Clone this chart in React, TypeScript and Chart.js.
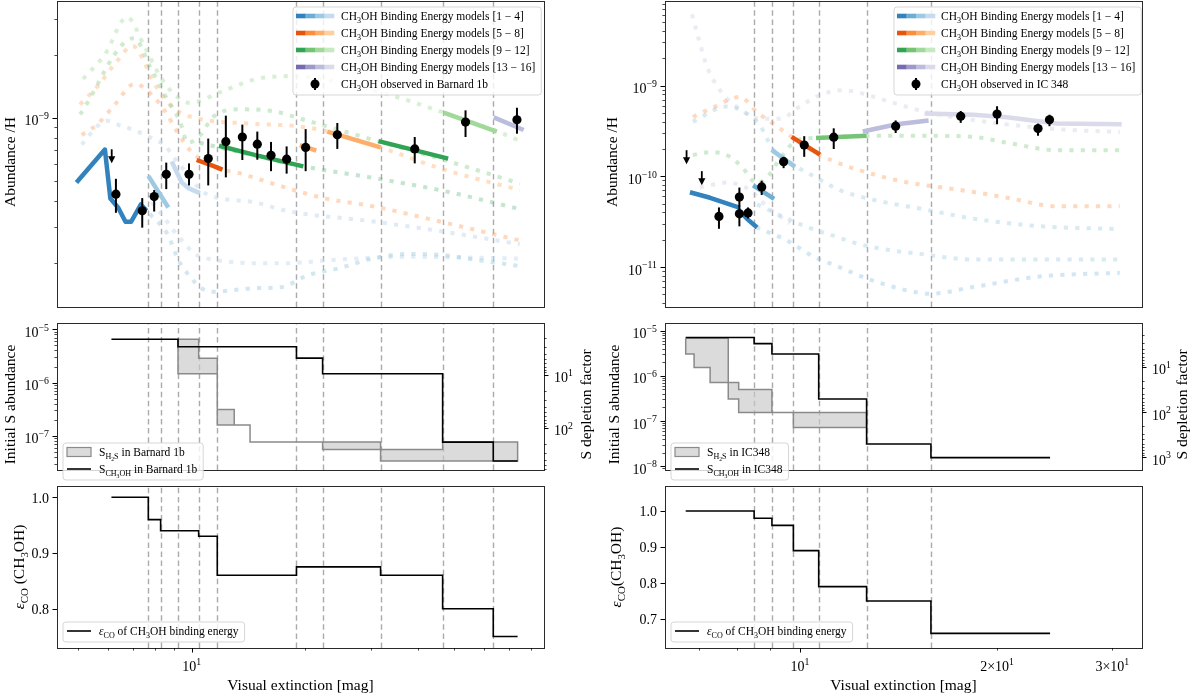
import React, { useEffect, useRef } from 'react';
import { Chart, registerables } from 'chart.js';

Chart.register(...registerables);

const FONT = '"Liberation Serif", "DejaVu Serif", serif';
const TICK_PX = 14;
const TITLE_PX = 15.5;
const LEG_PX = 11.5;

// ======================= DATA =======================
// dashed vertical lines (visual extinction, mag)
const B1B_VLINES = [7.67, 8.27, 9.2, 10.44, 11.7, 19.0, 22.3, 31.8, 46.5, 63.4];
const IC_VLINES = [8.51, 9.06, 9.77, 10.68, 12.64, 15.85];

// observations, Barnard 1b
const B1B_OBS_AV = [6.29, 7.39, 7.95, 8.56, 9.84, 11.07, 12.33, 13.64, 14.95, 16.26, 17.89, 20.1, 24.4, 39.2, 53.5, 73.3];
const B1B_OBS_X = [4.3e-10, 3.58e-10, 4.19e-10, 5.36e-10, 5.36e-10, 6.38e-10, 7.69e-10, 8.1e-10, 7.48e-10, 6.61e-10, 6.34e-10, 7.22e-10, 8.3e-10, 7.1e-10, 9.56e-10, 9.8e-10];
const B1B_OBS_HI = [5.1e-10, 4.12e-10, 4.5e-10, 6.1e-10, 6.05e-10, 7.96e-10, 1.026e-9, 9.29e-10, 8.6e-10, 7.67e-10, 7.3e-10, 8.84e-10, 9.46e-10, 8.1e-10, 1.088e-9, 1.12e-9];
const B1B_OBS_LO = [3.5e-10, 2.97e-10, 3.55e-10, 4.55e-10, 4.74e-10, 4.74e-10, 5.18e-10, 6.28e-10, 6.3e-10, 5.55e-10, 5.4e-10, 5.55e-10, 7.1e-10, 6.05e-10, 8.1e-10, 8.4e-10];
const B1B_ULIM_AV = [6.13];
const B1B_ULIM_X = [7.07e-10];

// observations, IC 348
const IC_OBS_AV = [7.52, 8.08, 8.08, 8.33, 8.74, 9.44, 10.15, 11.26, 14.0, 17.6, 20.0, 23.1, 24.05];
const IC_OBS_X = [3.61e-11, 5.91e-11, 3.86e-11, 3.95e-11, 7.64e-11, 1.45e-10, 2.21e-10, 2.7e-10, 3.57e-10, 4.59e-10, 4.85e-10, 3.36e-10, 4.2e-10];
const IC_OBS_HI = [4.54e-11, 7.52e-11, 4.78e-11, 4.54e-11, 8.95e-11, 1.64e-10, 2.77e-10, 3.38e-10, 4.13e-10, 5.25e-10, 5.92e-10, 3.81e-10, 4.77e-10];
const IC_OBS_LO = [2.64e-11, 4.64e-11, 2.81e-11, 3.43e-11, 6.23e-11, 1.23e-10, 1.64e-10, 2.0e-10, 3.0e-10, 3.88e-10, 3.75e-10, 2.8e-10, 3.57e-10];
const IC_ULIM_AV = [6.71, 7.08];
const IC_ULIM_X = [1.94e-10, 1.14e-10];

// faint model curves, Barnard 1b  [Av, abundance]
const B1B_DOT_A = [[5.14, 1.54e-9], [5.88, 2.02e-9], [6.73, 3.05e-9], [7.52, 2.18e-9], [8.24, 1.59e-9], [9.03, 1.29e-9], [9.9, 1.18e-9], [11.9, 1.33e-9], [14.9, 1.54e-9], [18.6, 1.59e-9], [24.8, 1.48e-9], [33.7, 1.29e-9], [46.9, 1.06e-9], [64.9, 8.63e-10], [74.6, 7.77e-10]];
const B1B_DOT_B = [[5.05, 1.04e-9], [7.03, 2.42e-9], [7.74, 1.77e-9], [8.49, 1.29e-9], [9.31, 9.6e-10], [9.77, 7.6e-10], [10.5, 8.2e-10], [11.4, 1.01e-9], [13.4, 1.1e-9], [16.4, 1.08e-9], [20.3, 9.7e-10], [30.4, 7.85e-10], [45.7, 6.37e-10], [74.6, 4.84e-10]];
const B1B_DOT_D = [[10.5, 7.6e-10], [13.4, 6.85e-10], [19.8, 5.85e-10], [30.4, 5.15e-10], [45.7, 4.5e-10], [74.6, 3.65e-10]];
const B1B_DOT_E = [[5.05, 1.16e-9], [5.64, 1.43e-9], [6.25, 1.82e-9], [6.98, 2.22e-9], [7.38, 1.96e-9], [7.84, 1.54e-9], [8.34, 1.29e-9], [9.03, 1.1e-9], [10.5, 9.9e-10], [14.3, 9.4e-10], [19.4, 9.1e-10], [22.9, 8.63e-10], [31.8, 7.22e-10], [45.7, 5.73e-10], [74.6, 4.5e-10]];
const B1B_DOT_F = [[5.1, 8.27e-10], [5.64, 9.4e-10], [6.25, 1.16e-9], [7.06, 1.46e-9], [7.84, 1.29e-9], [8.49, 1.08e-9], [9.2, 8.45e-10], [10.0, 6.85e-10], [10.65, 6.3e-10], [12.0, 5.67e-10], [13.4, 5.43e-10], [16.4, 4.84e-10], [22.3, 4.13e-10], [30.4, 3.76e-10], [45.7, 3.18e-10], [74.6, 2.58e-10]];
const B1B_DOT_G = [[5.1, 7.45e-10], [5.64, 9.2e-10], [5.95, 9.7e-10], [6.45, 9.2e-10], [7.06, 8.72e-10], [7.99, 7.85e-10], [8.49, 7.38e-10], [9.03, 6.37e-10], [9.6, 5.55e-10], [10.2, 4.84e-10], [10.85, 4.35e-10], [11.75, 4.13e-10], [14.7, 3.93e-10], [18.0, 3.57e-10], [30.4, 3.18e-10], [45.7, 2.86e-10], [74.6, 2.47e-10]];
const B1B_DOT_H = [[7.74, 3.46e-10], [8.65, 2.74e-10], [9.2, 2.09e-10], [10.0, 1.69e-10], [10.5, 1.54e-10], [11.3, 1.46e-10], [13.0, 1.49e-10], [14.7, 1.52e-10], [17.4, 1.54e-10], [20.3, 1.75e-10], [24.8, 1.9e-10], [30.4, 2.11e-10], [37.4, 2.22e-10], [45.7, 2.2e-10], [56.0, 2.09e-10], [74.6, 1.94e-10]];
const B1B_DOT_I = [[7.84, 3.93e-10], [8.49, 3.28e-10], [8.86, 2.95e-10], [9.42, 2.58e-10], [10.2, 2.22e-10], [11.3, 2.09e-10], [12.5, 2.04e-10], [14.7, 2.0e-10], [17.4, 2.0e-10], [24.8, 2.09e-10], [37.4, 2.15e-10], [74.6, 2.11e-10]];

// active model segments, Barnard 1b
const B1B_SEG_1 = [[4.94, 4.9e-10], [5.88, 7.05e-10], [6.08, 4.1e-10], [6.38, 3.7e-10], [6.67, 3.17e-10], [6.9, 3.17e-10], [7.33, 3.84e-10], [7.59, 3.58e-10]];
const B1B_SEG_2 = [[7.67, 5.27e-10], [8.67, 3.71e-10]];
const B1B_SEG_3 = [[8.85, 6.17e-10], [9.41, 4.9e-10], [9.8, 4.6e-10], [10.52, 4.35e-10]];
const B1B_SEG_4 = [[10.31, 6.28e-10], [11.18, 5.96e-10], [12.08, 5.65e-10]];
const B1B_SEG_5 = [[11.82, 7.35e-10], [14.88, 6.61e-10], [19.8, 5.85e-10]];
const B1B_SEG_6 = [[19.4, 7.4e-10], [21.45, 6.97e-10]];
const B1B_SEG_7 = [[22.95, 8.6e-10], [31.8, 7.22e-10]];
const B1B_SEG_8 = [[31.4, 7.74e-10], [48.1, 6.38e-10]];
const B1B_SEG_9 = [[46.8, 1.06e-9], [64.8, 8.6e-10]];
const B1B_SEG_10 = [[63.6, 1.007e-9], [76.4, 8.75e-10]];

// faint model curves, IC 348
const IC_DOT_A = [[6.84, 6.1e-9], [7.03, 2.96e-9], [7.21, 1.62e-9], [7.55, 8.87e-10], [8.1, 5.47e-10], [8.69, 4.3e-10], [9.32, 4.3e-10], [10.0, 5.89e-10], [10.73, 7.86e-10], [11.63, 8.87e-10], [12.22, 8.45e-10], [13.7, 6.64e-10], [15.6, 5.09e-10], [17.5, 4.41e-10], [20.2, 3.81e-10], [24.9, 3.3e-10], [30.8, 3.07e-10]];
const IC_DOT_C = [[6.86, 4.51e-10], [7.37, 5.74e-10], [8.1, 7.48e-10], [8.6, 5.09e-10], [9.22, 3.55e-10], [9.76, 2.65e-10], [10.2, 2.14e-10], [10.73, 1.72e-10], [11.5, 1.38e-10], [12.9, 1.06e-10], [14.6, 8.55e-11], [16.4, 7.58e-11], [18.4, 6.72e-11], [20.7, 5.81e-11], [24.7, 4.68e-11], [30.8, 4.68e-11]];
const IC_DOT_D = [[6.86, 4.0e-10], [7.74, 5.89e-10], [8.18, 5.2e-10], [8.69, 3.63e-10], [9.09, 1.99e-10], [9.76, 1.35e-10], [10.6, 9.64e-11], [11.5, 7.05e-11], [12.9, 5.54e-11], [15.4, 4.35e-11], [18.4, 3.42e-11], [23.2, 2.82e-11], [30.8, 2.62e-11]];
const IC_DOT_E = [[6.86, 1.72e-10], [7.29, 1.85e-10], [7.82, 1.64e-10], [8.18, 1.23e-10], [8.6, 8.35e-11], [8.9, 9.64e-11], [9.32, 1.56e-10], [9.9, 2.5e-10], [10.5, 2.64e-10], [12.65, 2.8e-10], [16.4, 2.79e-10], [18.4, 2.72e-10], [20.7, 2.35e-10], [24.7, 1.94e-10], [30.8, 1.94e-10]];
const IC_DOT_F = [[7.03, 7.58e-11], [7.74, 8.55e-11], [8.39, 7.05e-11], [8.9, 4.68e-11], [9.65, 3.03e-11]];
const IC_DOT_G = [[8.6, 4.91e-11], [9.55, 3.42e-11], [10.36, 2.69e-11], [11.23, 2.22e-11], [12.35, 1.78e-11], [13.7, 1.54e-11], [15.2, 1.4e-11], [18.4, 1.21e-11], [30.8, 1.21e-11]];
const IC_DOT_H = [[8.57, 2.75e-11], [9.55, 1.96e-11], [10.5, 1.3e-11], [11.4, 1.02e-11], [12.65, 7.48e-12], [13.9, 6.03e-12], [15.2, 5.21e-12], [15.8, 5.09e-12], [18.4, 6.03e-12], [23.2, 7.86e-12], [30.8, 8.65e-12]];

// active model segments, IC 348
const IC_SEG_1 = [[6.79, 6.67e-11], [7.29, 5.8e-11], [8.08, 4.53e-11]];
const IC_SEG_1B = [[8.05, 4.3e-11], [8.3, 3.4e-11], [8.6, 2.73e-11]];
const IC_SEG_2 = [[8.48, 7.96e-11], [9.13, 5.63e-11]];
const IC_SEG_3 = [[9.05, 1.954e-10], [9.83, 1.27e-10]];
const IC_SEG_4 = [[9.71, 2.72e-10], [10.73, 1.73e-10]];
const IC_SEG_5 = [[10.58, 2.64e-10], [12.64, 2.8e-10]];
const IC_SEG_6 = [[12.47, 3.12e-10], [14.05, 3.75e-10], [15.72, 4.13e-10]];
const IC_SEG_7 = [[15.5, 4.93e-10], [18.4, 4.77e-10], [20.7, 4.48e-10], [24.66, 3.81e-10], [31.0, 3.75e-10]];

// initial sulphur abundance (step edges and values)
const B1B_S_EDGES = [6.12, 9.2, 19.0, 22.3, 46.5, 63.4, 73.6];
const B1B_S_CH3OH = [6.5e-6, 4.7e-6, 2.87e-6, 1.46e-6, 7.6e-8, 3.35e-8];
const B1B_H2S_EDGES = [9.2, 10.44, 11.7, 12.98, 14.3, 22.3, 31.8, 46.5, 63.4, 73.6];
const B1B_H2S_HI = [6.5e-6, 2.87e-6, 3.1e-7, 1.6e-7, 7.6e-8, 7.6e-8, 5.5e-8, 7.6e-8, 7.6e-8];
const B1B_H2S_LO = [1.46e-6, 1.46e-6, 1.6e-7, 1.6e-7, 7.6e-8, 5.5e-8, 3.35e-8, 3.35e-8, 3.35e-8];
const IC_S_EDGES = [6.69, 8.51, 9.06, 10.68, 12.64, 15.85, 24.1];
const IC_S_CH3OH = [7.1e-6, 5.2e-6, 3.07e-6, 3.07e-7, 3.1e-8, 1.54e-8];
const IC_H2S_EDGES = [6.69, 6.89, 7.29, 7.77, 8.06, 9.06, 9.77, 12.64];
const IC_H2S_HI = [6.8e-6, 6.8e-6, 6.8e-6, 7.1e-7, 5.0e-7, 1.54e-7, 1.54e-7];
const IC_H2S_LO = [3.07e-6, 1.54e-6, 7.1e-7, 3.07e-7, 1.54e-7, 1.54e-7, 7.2e-8];

// eps_CO of CH3OH binding energy
const B1B_EPS_EDGES = [6.12, 7.67, 8.27, 10.44, 11.7, 19.0, 31.8, 46.5, 63.4, 73.6];
const B1B_EPS = [1.0, 0.96, 0.94, 0.93, 0.86, 0.875, 0.86, 0.8, 0.75];
const IC_EPS_EDGES = [6.69, 8.51, 9.06, 9.77, 10.68, 12.64, 15.85, 24.1];
const IC_EPS = [1.0, 0.98, 0.96, 0.89, 0.79, 0.75, 0.66];

// axis ranges
const B1B_AV_RANGE = [4.385, 86.5];
const IC_AV_RANGE = [6.22, 33.3];
const B1B_ABUND_RANGE = [1.234e-10, 3.65e-9];
const IC_ABUND_RANGE = [3.63e-12, 8.55e-9];
const B1B_S_RANGE = [2.27e-8, 1.315e-5];
const IC_S_RANGE = [8.2e-9, 1.49e-5];
const B1B_EPS_RANGE = [0.7294, 1.0203];
const IC_EPS_RANGE = [0.6194, 1.0694];
const B1B_S_REF = 1.4e-5; // depletion factor = S_REF / S
const IC_S_REF = 1.58e-5;

// labelled ticks
const B1B_X_TICKS = [10];
const B1B_X_LABELS = ['10^1'];
const IC_X_TICKS = [10, 20, 30];
const IC_X_LABELS = ['10^1', '2×10^1', '3×10^1'];
const B1B_ABUND_TICKS = [1e-9];
const B1B_ABUND_LABELS = ['10^−9'];
const IC_ABUND_TICKS = [1e-9, 1e-10, 1e-11];
const IC_ABUND_LABELS = ['10^−9', '10^−10', '10^−11'];
const B1B_S_TICKS = [1e-5, 1e-6, 1e-7];
const B1B_S_LABELS = ['10^−5', '10^−6', '10^−7'];
const IC_S_TICKS = [1e-5, 1e-6, 1e-7, 1e-8];
const IC_S_LABELS = ['10^−5', '10^−6', '10^−7', '10^−8'];
const B1B_DEPL_TICKS = [10, 100];
const B1B_DEPL_LABELS = ['10^1', '10^2'];
const IC_DEPL_TICKS = [10, 100, 1000];
const IC_DEPL_LABELS = ['10^1', '10^2', '10^3'];
const B1B_EPS_TICKS = [1.0, 0.9, 0.8];
const B1B_EPS_LABELS = ['1.0', '0.9', '0.8'];
const IC_EPS_TICKS = [1.0, 0.9, 0.8, 0.7];
const IC_EPS_LABELS = ['1.0', '0.9', '0.8', '0.7'];

// tab20c palette
const BLUES = ['#3182bd', '#6baed6', '#9ecae1', '#c6dbef'];
const ORANGES = ['#e6550d', '#fd8d3c', '#fdae6b', '#fdd0a2'];
const GREENS = ['#31a354', '#74c476', '#a1d99b', '#c7e9c0'];
const PURPLES = ['#756bb1', '#9e9ac8', '#bcbddc', '#dadaeb'];

// ======================= helpers =======================
type Seg = { t: string; sub?: boolean; sup?: boolean; it?: boolean; ss?: boolean };

const rgba = (hex: string, a: number) => {
  const n = parseInt(hex.slice(1), 16);
  return `rgba(${(n >> 16) & 255},${(n >> 8) & 255},${n & 255},${a})`;
};
const segSize = (s: Seg, size: number) => (s.ss ? size * 0.5 : s.sub || s.sup ? size * 0.7 : size);
const segDy = (s: Seg, size: number) => (s.ss ? size * 0.4 : s.sub ? size * 0.24 : s.sup ? -size * 0.45 : 0);
function setFont(ctx: CanvasRenderingContext2D, s: Seg, size: number) {
  ctx.font = `${s.it ? 'italic ' : ''}${segSize(s, size)}px ${FONT}`;
}
function richWidth(ctx: CanvasRenderingContext2D, segs: Seg[], size: number) {
  let w = 0;
  for (const s of segs) {
    setFont(ctx, s, size);
    w += ctx.measureText(s.t).width;
  }
  return w;
}
function drawRich(ctx: CanvasRenderingContext2D, segs: Seg[], x: number, y: number, size: number, align: string) {
  const w = richWidth(ctx, segs, size);
  let cx = align === 'left' ? x : align === 'center' ? x - w / 2 : x - w;
  ctx.textAlign = 'left';
  ctx.textBaseline = 'alphabetic';
  for (const s of segs) {
    setFont(ctx, s, size);
    ctx.fillText(s.t, cx, y + segDy(s, size));
    cx += ctx.measureText(s.t).width;
  }
  return w;
}
function drawRotated(ctx: CanvasRenderingContext2D, segs: Seg[], cx: number, cy: number, size: number) {
  ctx.save();
  ctx.translate(cx, cy);
  ctx.rotate(-Math.PI / 2);
  ctx.fillStyle = '#000';
  drawRich(ctx, segs, 0, size * 0.35, size, 'center');
  ctx.restore();
}
function parseLabel(s: string): Seg[] {
  const i = s.indexOf('^');
  if (i < 0) return [{ t: s }];
  return [{ t: s.slice(0, i) }, { t: s.slice(i + 1), sup: true }];
}
type Tick = { v: number; major: boolean; label: string | null };
function logTicks(range: number[], vals: number[], labels: string[]): Tick[] {
  const [min, max] = range;
  const out: Tick[] = [];
  const e0 = Math.floor(Math.log10(min));
  const e1 = Math.ceil(Math.log10(max));
  for (let e = e0; e <= e1; e++) {
    for (let d = 1; d <= 9; d++) {
      const v = d * Math.pow(10, e);
      if (v < min * 0.9999 || v > max * 1.0001) continue;
      const k = vals.findIndex((m) => Math.abs(m - v) / v < 1e-6);
      out.push({ v, major: d === 1, label: k >= 0 ? labels[k] : null });
    }
  }
  return out;
}
function linTicks(vals: number[], labels: string[]): Tick[] {
  return vals.map((v, i) => ({ v, major: true, label: labels[i] }));
}
const pts = (arr: number[][]) => arr.map(([x, y]) => ({ x, y }));
function stepData(edges: number[], vals: number[]) {
  const p = vals.map((v, i) => ({ x: edges[i], y: v }));
  p.push({ x: edges[edges.length - 1], y: vals[vals.length - 1] });
  return p;
}
function bandOutline(edges: number[], hi: number[], lo: number[]) {
  const p: { x: number; y: number }[] = [];
  for (let i = 0; i < hi.length; i++) {
    p.push({ x: edges[i], y: hi[i] });
    p.push({ x: edges[i + 1], y: hi[i] });
  }
  for (let i = lo.length - 1; i >= 0; i--) {
    p.push({ x: edges[i + 1], y: lo[i] });
    p.push({ x: edges[i], y: lo[i] });
  }
  p.push({ x: p[0].x, y: p[0].y });
  return p;
}

const dottedDs = (arr: number[][], color: string, alpha: number) => ({
  data: pts(arr),
  borderColor: rgba(color, alpha),
  borderWidth: 4,
  borderDash: [4.2, 7.2],
  borderCapStyle: 'butt',
  cubicInterpolationMode: 'monotone',
  pointRadius: 0,
  fill: false,
  order: 3,
});
const solidDs = (arr: number[][], color: string) => ({
  data: pts(arr),
  borderColor: color,
  borderWidth: 4.5,
  borderJoinStyle: 'round',
  borderCapStyle: 'butt',
  pointRadius: 0,
  fill: false,
  order: 1,
});
const obsDs = (av: number[], x: number[]) => ({
  data: av.map((a, i) => ({ x: a, y: x[i] })),
  showLine: false,
  pointRadius: 4.6,
  pointBackgroundColor: '#000',
  pointBorderColor: '#000',
  pointBorderWidth: 0,
  order: 0,
});
const stepDs = (edges: number[], vals: number[]) => ({
  data: stepData(edges, vals),
  stepped: true,
  borderColor: '#000',
  borderWidth: 1.6,
  pointRadius: 0,
  fill: false,
  order: 0,
});
const bandDs = (edges: number[], hi: number[], lo: number[]) => ({
  data: bandOutline(edges, hi, lo),
  borderColor: '#8a8a8a',
  borderWidth: 1.5,
  backgroundColor: 'rgba(200,200,200,0.65)',
  pointRadius: 0,
  fill: 'shape',
  order: 1,
});

// legend text helpers
const modelText = (r: string): Seg[] => [{ t: 'CH' }, { t: '3', sub: true }, { t: `OH Binding Energy models [${r}]` }];
const obsText = (src: string): Seg[] => [{ t: 'CH' }, { t: '3', sub: true }, { t: `OH observed in ${src}` }];
const h2sText = (src: string): Seg[] => [{ t: 'S' }, { t: 'H', sub: true }, { t: '2', ss: true }, { t: 'S', sub: true }, { t: ` in ${src}` }];
const sch3ohText = (src: string): Seg[] => [{ t: 'S' }, { t: 'CH', sub: true }, { t: '3', ss: true }, { t: 'OH', sub: true }, { t: ` in ${src}` }];
const epsText: Seg[] = [{ t: 'ε', it: true }, { t: 'CO', sub: true }, { t: ' of CH' }, { t: '3', sub: true }, { t: 'OH binding energy' }];

// ======================= layout =======================
const LCOL = { cl: 0, cr: 605, left: 57, right: 544 };
const RCOL = { cl: 605, cr: 1200, left: 665, right: 1142 };
const ROWS = [
  { top: 1, bottom: 323 },
  { top: 323, bottom: 486 },
  { top: 486, bottom: 648 },
];
const MT = 16;

type LegendRow = { kind: string; colors?: string[]; text: Seg[] };
type Spec = any;

function drawLegend(ctx: CanvasRenderingContext2D, x: number, y: number, rows: LegendRow[], swW: number, textOff: number) {
  let tw = 0;
  for (const r of rows) tw = Math.max(tw, richWidth(ctx, r.text, LEG_PX));
  const w = textOff + tw + 6;
  const h = rows.length * 17 + 3;
  ctx.save();
  ctx.beginPath();
  const rr = 3;
  ctx.moveTo(x + rr, y);
  ctx.arcTo(x + w, y, x + w, y + h, rr);
  ctx.arcTo(x + w, y + h, x, y + h, rr);
  ctx.arcTo(x, y + h, x, y, rr);
  ctx.arcTo(x, y, x + w, y, rr);
  ctx.closePath();
  ctx.fillStyle = 'rgba(255,255,255,0.8)';
  ctx.fill();
  ctx.strokeStyle = 'rgba(210,210,210,0.9)';
  ctx.lineWidth = 1;
  ctx.stroke();
  rows.forEach((r, i) => {
    const cy = y + 9 + 17 * i;
    const sx = x + 3;
    if (r.kind === 'grad' && r.colors) {
      const sw = swW / 4;
      r.colors.forEach((c, k) => {
        ctx.fillStyle = c;
        ctx.fillRect(sx + k * sw, cy - 2.3, sw + 0.3, 4.6);
      });
    } else if (r.kind === 'obs') {
      const mx = sx + swW / 2;
      ctx.strokeStyle = '#000';
      ctx.lineWidth = 2;
      ctx.beginPath();
      ctx.moveTo(mx, cy - 6);
      ctx.lineTo(mx, cy + 6);
      ctx.stroke();
      ctx.fillStyle = '#000';
      ctx.beginPath();
      ctx.arc(mx, cy, 4.5, 0, Math.PI * 2);
      ctx.fill();
    } else if (r.kind === 'band') {
      ctx.fillStyle = 'rgba(200,200,200,0.65)';
      ctx.fillRect(sx + 1, cy - 4.5, swW - 1, 9);
      ctx.strokeStyle = '#8a8a8a';
      ctx.lineWidth = 1.2;
      ctx.strokeRect(sx + 1, cy - 4.5, swW - 1, 9);
    } else if (r.kind === 'line') {
      ctx.strokeStyle = '#000';
      ctx.lineWidth = 1.6;
      ctx.beginPath();
      ctx.moveTo(sx + 1, cy);
      ctx.lineTo(sx + swW, cy);
      ctx.stroke();
    }
    ctx.fillStyle = '#000';
    drawRich(ctx, r.text, x + textOff, cy + 4, LEG_PX, 'left');
  });
  ctx.restore();
}

function drawTicksY(ctx: CanvasRenderingContext2D, scale: any, ticks: Tick[], a: any, side: string) {
  ctx.save();
  ctx.strokeStyle = '#000';
  ctx.fillStyle = '#000';
  const x0 = side === 'left' ? a.left : a.right;
  const dir = side === 'left' ? -1 : 1;
  for (const tk of ticks) {
    const py = scale.getPixelForValue(tk.v);
    if (py < a.top - 0.6 || py > a.bottom + 0.6) continue;
    const len = tk.major ? 4.5 : 2.6;
    ctx.lineWidth = tk.major ? 1 : 0.7;
    ctx.beginPath();
    ctx.moveTo(x0, Math.round(py) + 0.5);
    ctx.lineTo(x0 + dir * len, Math.round(py) + 0.5);
    ctx.stroke();
    if (tk.label) {
      const segs = parseLabel(tk.label);
      const sup = segs.length > 1;
      drawRich(ctx, segs, x0 + dir * (side === 'left' ? 8 : 10), py + (sup ? 7.5 : 5.5), TICK_PX, side === 'left' ? 'right' : 'left');
    }
  }
  ctx.restore();
}
function drawTicksX(ctx: CanvasRenderingContext2D, scale: any, ticks: Tick[], a: any) {
  ctx.save();
  ctx.strokeStyle = '#000';
  ctx.fillStyle = '#000';
  for (const tk of ticks) {
    const px = scale.getPixelForValue(tk.v);
    if (px < a.left - 0.6 || px > a.right + 0.6) continue;
    const len = tk.major ? 4.5 : 2.6;
    ctx.lineWidth = tk.major ? 1 : 0.7;
    ctx.beginPath();
    ctx.moveTo(Math.round(px) + 0.5, a.bottom);
    ctx.lineTo(Math.round(px) + 0.5, a.bottom + len);
    ctx.stroke();
    if (tk.label) drawRich(ctx, parseLabel(tk.label), px, a.bottom + 23, TICK_PX, 'center');
  }
  ctx.restore();
}

function buildChart(canvas: HTMLCanvasElement, sp: Spec) {
  const col = sp.col;
  const row = ROWS[sp.row];
  const isBottom = sp.row === 2;
  const mb = isBottom ? 695 - row.bottom : 16;
  const ml = col.left - col.cl;
  const mr = col.cr - col.right;
  const W = col.cr - col.cl;
  const H = row.bottom - row.top + MT + mb;
  const ox = col.cl;
  const oy = row.top - MT;
  canvas.width = W;
  canvas.height = H;
  canvas.style.left = `${ox}px`;
  canvas.style.top = `${oy}px`;
  canvas.style.width = `${W}px`;
  canvas.style.height = `${H}px`;

  const hidden = { grid: { display: false }, border: { display: false }, ticks: { display: false } };
  const scales: any = {
    x: {
      type: 'logarithmic',
      min: sp.xRange[0],
      max: sp.xRange[1],
      display: isBottom,
      ...hidden,
      afterFit: (s: any) => {
        s.height = mb;
      },
    },
    y: {
      type: sp.yType,
      position: 'left',
      min: sp.yRange[0],
      max: sp.yRange[1],
      ...hidden,
      afterFit: (s: any) => {
        s.width = ml;
      },
    },
  };
  if (sp.y2Range) {
    scales.y2 = {
      type: 'logarithmic',
      position: 'right',
      reverse: true,
      min: sp.y2Range[0],
      max: sp.y2Range[1],
      ...hidden,
      afterFit: (s: any) => {
        s.width = mr;
      },
    };
  }

  const deco = {
    id: 'deco',
    beforeDatasetsDraw(chart: any) {
      const ctx = chart.ctx;
      const a = chart.chartArea;
      const xs = chart.scales.x;
      ctx.save();
      ctx.strokeStyle = 'rgba(150,150,150,0.8)';
      ctx.lineWidth = 1.4;
      ctx.setLineDash([5.5, 3.6]);
      for (const v of sp.vlines) {
        const px = Math.round(xs.getPixelForValue(v)) + 0.5;
        ctx.beginPath();
        ctx.moveTo(px, a.bottom);
        ctx.lineTo(px, a.top);
        ctx.stroke();
      }
      ctx.restore();
    },
    afterDatasetsDraw(chart: any) {
      const ctx = chart.ctx;
      const xs = chart.scales.x;
      const ys = chart.scales.y;
      ctx.save();
      ctx.strokeStyle = '#000';
      ctx.fillStyle = '#000';
      if (sp.obs) {
        ctx.lineWidth = 2;
        sp.obs.av.forEach((av: number, i: number) => {
          const px = xs.getPixelForValue(av);
          ctx.beginPath();
          ctx.moveTo(px, ys.getPixelForValue(sp.obs.lo[i]));
          ctx.lineTo(px, ys.getPixelForValue(sp.obs.hi[i]));
          ctx.stroke();
        });
      }
      if (sp.ulim) {
        sp.ulim.av.forEach((av: number, i: number) => {
          const px = xs.getPixelForValue(av);
          const py = ys.getPixelForValue(sp.ulim.x[i]);
          ctx.lineWidth = 1.8;
          ctx.beginPath();
          ctx.moveTo(px, py);
          ctx.lineTo(px, py + 9);
          ctx.stroke();
          ctx.beginPath();
          ctx.moveTo(px - 3.6, py + 7);
          ctx.lineTo(px + 3.6, py + 7);
          ctx.lineTo(px, py + 14);
          ctx.closePath();
          ctx.fill();
        });
      }
      ctx.restore();
    },
    afterDraw(chart: any) {
      const ctx = chart.ctx;
      const a = chart.chartArea;
      // frame
      ctx.save();
      ctx.strokeStyle = '#2a2a2a';
      ctx.lineWidth = 1;
      ctx.strokeRect(Math.round(a.left) + 0.5, Math.round(a.top) + 0.5, Math.round(a.right - a.left), Math.round(a.bottom - a.top));
      ctx.restore();
      drawTicksY(ctx, chart.scales.y, sp.yTicks, a, 'left');
      if (sp.y2Ticks) drawTicksY(ctx, chart.scales.y2, sp.y2Ticks, a, 'right');
      if (sp.xTicks) drawTicksX(ctx, chart.scales.x, sp.xTicks, a);
      // titles and legends in page coordinates
      ctx.save();
      ctx.translate(-ox, -oy);
      ctx.fillStyle = '#000';
      drawRotated(ctx, sp.yTitle, sp.yTitleX, (row.top + row.bottom) / 2, TITLE_PX);
      if (sp.y2Title) drawRotated(ctx, sp.y2Title, sp.y2TitleX, (row.top + row.bottom) / 2, TITLE_PX);
      if (sp.xTitle) {
        ctx.fillStyle = '#000';
        drawRich(ctx, sp.xTitle, (col.left + col.right) / 2, 690, TITLE_PX, 'center');
      }
      if (sp.legend) drawLegend(ctx, sp.legend.x, sp.legend.y, sp.legend.rows, sp.legend.swW, sp.legend.textOff);
      ctx.restore();
    },
  };

  return new Chart(canvas, {
    type: 'line',
    data: { datasets: sp.datasets },
    options: {
      animation: false,
      responsive: false,
      events: [],
      layout: { padding: { top: MT, bottom: isBottom ? 0 : mb, left: 0, right: sp.y2Range ? 0 : mr } },
      plugins: { legend: { display: false }, tooltip: { enabled: false } },
      scales,
    },
    plugins: [deco],
  } as any);
}

function makeSpecs(): Spec[] {
  const ABUND_T: Seg[] = [{ t: 'Abundance /H' }];
  const S_T: Seg[] = [{ t: 'Initial S abundance' }];
  const DEPL_T: Seg[] = [{ t: 'S depletion factor' }];
  const X_T: Seg[] = [{ t: 'Visual extinction [mag]' }];
  const EPS_TL: Seg[] = [{ t: 'ε', it: true }, { t: 'CO', sub: true }, { t: ' (CH' }, { t: '3', sub: true }, { t: 'OH)' }];
  const EPS_TR: Seg[] = [{ t: 'ε', it: true }, { t: 'CO', sub: true }, { t: '(CH' }, { t: '3', sub: true }, { t: 'OH)' }];

  const topRows = (src: string): LegendRow[] => [
    { kind: 'grad', colors: BLUES, text: modelText('1 − 4') },
    { kind: 'grad', colors: ORANGES, text: modelText('5 − 8') },
    { kind: 'grad', colors: GREENS, text: modelText('9 − 12') },
    { kind: 'grad', colors: PURPLES, text: modelText('13 − 16') },
    { kind: 'obs', text: obsText(src) },
  ];

  const b1bTop = [
    obsDs(B1B_OBS_AV, B1B_OBS_X),
    solidDs(B1B_SEG_1, BLUES[0]),
    solidDs(B1B_SEG_2, BLUES[2]),
    solidDs(B1B_SEG_3, BLUES[3]),
    solidDs(B1B_SEG_4, ORANGES[0]),
    solidDs(B1B_SEG_5, GREENS[0]),
    solidDs(B1B_SEG_6, ORANGES[2]),
    solidDs(B1B_SEG_7, ORANGES[2]),
    solidDs(B1B_SEG_8, GREENS[0]),
    solidDs(B1B_SEG_9, GREENS[2]),
    solidDs(B1B_SEG_10, PURPLES[2]),
    dottedDs(B1B_DOT_A, GREENS[2], 0.4),
    dottedDs(B1B_DOT_B, GREENS[1], 0.35),
    dottedDs(B1B_DOT_D, GREENS[0], 0.28),
    dottedDs(B1B_DOT_E, ORANGES[2], 0.4),
    dottedDs(B1B_DOT_F, ORANGES[1], 0.33),
    dottedDs(B1B_DOT_G, BLUES[3], 0.55),
    dottedDs(B1B_DOT_H, BLUES[2], 0.45),
    dottedDs(B1B_DOT_I, BLUES[3], 0.5),
  ];
  const icTop = [
    obsDs(IC_OBS_AV, IC_OBS_X),
    solidDs(IC_SEG_1, BLUES[0]),
    solidDs(IC_SEG_1B, BLUES[0]),
    solidDs(IC_SEG_2, BLUES[1]),
    solidDs(IC_SEG_3, BLUES[2]),
    solidDs(IC_SEG_4, ORANGES[0]),
    solidDs(IC_SEG_5, GREENS[1]),
    solidDs(IC_SEG_6, PURPLES[2]),
    solidDs(IC_SEG_7, PURPLES[3]),
    dottedDs(IC_DOT_A, PURPLES[2], 0.3),
    dottedDs(IC_DOT_C, ORANGES[1], 0.33),
    dottedDs(IC_DOT_D, BLUES[2], 0.4),
    dottedDs(IC_DOT_E, GREENS[1], 0.35),
    dottedDs(IC_DOT_F, PURPLES[2], 0.3),
    dottedDs(IC_DOT_G, BLUES[2], 0.4),
    dottedDs(IC_DOT_H, BLUES[1], 0.3),
  ];

  return [
    {
      col: LCOL, row: 0, xRange: B1B_AV_RANGE, yType: 'logarithmic', yRange: B1B_ABUND_RANGE,
      yTicks: logTicks(B1B_ABUND_RANGE, B1B_ABUND_TICKS, B1B_ABUND_LABELS),
      yTitle: ABUND_T, yTitleX: 10, vlines: B1B_VLINES, datasets: b1bTop,
      obs: { av: B1B_OBS_AV, lo: B1B_OBS_LO, hi: B1B_OBS_HI }, ulim: { av: B1B_ULIM_AV, x: B1B_ULIM_X },
      legend: { x: 293, y: 7, rows: topRows('Barnard 1b'), swW: 38, textOff: 48 },
    },
    {
      col: LCOL, row: 1, xRange: B1B_AV_RANGE, yType: 'logarithmic', yRange: B1B_S_RANGE,
      y2Range: [B1B_S_REF / B1B_S_RANGE[1], B1B_S_REF / B1B_S_RANGE[0]],
      yTicks: logTicks(B1B_S_RANGE, B1B_S_TICKS, B1B_S_LABELS),
      y2Ticks: logTicks([B1B_S_REF / B1B_S_RANGE[1], B1B_S_REF / B1B_S_RANGE[0]], B1B_DEPL_TICKS, B1B_DEPL_LABELS),
      yTitle: S_T, yTitleX: 10, y2Title: DEPL_T, y2TitleX: 586, vlines: B1B_VLINES,
      datasets: [stepDs(B1B_S_EDGES, B1B_S_CH3OH), bandDs(B1B_H2S_EDGES, B1B_H2S_HI, B1B_H2S_LO)],
      legend: { x: 63, y: 443, rows: [{ kind: 'band', text: h2sText('Barnard 1b') }, { kind: 'line', text: sch3ohText('Barnard 1b') }], swW: 25, textOff: 36 },
    },
    {
      col: LCOL, row: 2, xRange: B1B_AV_RANGE, yType: 'linear', yRange: B1B_EPS_RANGE,
      yTicks: linTicks(B1B_EPS_TICKS, B1B_EPS_LABELS),
      xTicks: logTicks(B1B_AV_RANGE, B1B_X_TICKS, B1B_X_LABELS),
      yTitle: EPS_TL, yTitleX: 19, xTitle: X_T, vlines: B1B_VLINES,
      datasets: [stepDs(B1B_EPS_EDGES, B1B_EPS)],
      legend: { x: 63, y: 622, rows: [{ kind: 'line', text: epsText }], swW: 25, textOff: 36 },
    },
    {
      col: RCOL, row: 0, xRange: IC_AV_RANGE, yType: 'logarithmic', yRange: IC_ABUND_RANGE,
      yTicks: logTicks(IC_ABUND_RANGE, IC_ABUND_TICKS, IC_ABUND_LABELS),
      yTitle: ABUND_T, yTitleX: 612, vlines: IC_VLINES, datasets: icTop,
      obs: { av: IC_OBS_AV, lo: IC_OBS_LO, hi: IC_OBS_HI }, ulim: { av: IC_ULIM_AV, x: IC_ULIM_X },
      legend: { x: 894, y: 7, rows: topRows('IC 348'), swW: 38, textOff: 47 },
    },
    {
      col: RCOL, row: 1, xRange: IC_AV_RANGE, yType: 'logarithmic', yRange: IC_S_RANGE,
      y2Range: [IC_S_REF / IC_S_RANGE[1], IC_S_REF / IC_S_RANGE[0]],
      yTicks: logTicks(IC_S_RANGE, IC_S_TICKS, IC_S_LABELS),
      y2Ticks: logTicks([IC_S_REF / IC_S_RANGE[1], IC_S_REF / IC_S_RANGE[0]], IC_DEPL_TICKS, IC_DEPL_LABELS),
      yTitle: S_T, yTitleX: 614, y2Title: DEPL_T, y2TitleX: 1182, vlines: IC_VLINES,
      datasets: [stepDs(IC_S_EDGES, IC_S_CH3OH), bandDs(IC_H2S_EDGES, IC_H2S_HI, IC_H2S_LO)],
      legend: { x: 671, y: 443, rows: [{ kind: 'band', text: h2sText('IC348') }, { kind: 'line', text: sch3ohText('IC348') }], swW: 25, textOff: 36 },
    },
    {
      col: RCOL, row: 2, xRange: IC_AV_RANGE, yType: 'linear', yRange: IC_EPS_RANGE,
      yTicks: linTicks(IC_EPS_TICKS, IC_EPS_LABELS),
      xTicks: logTicks(IC_AV_RANGE, IC_X_TICKS, IC_X_LABELS),
      yTitle: EPS_TR, yTitleX: 616, xTitle: X_T, vlines: IC_VLINES,
      datasets: [stepDs(IC_EPS_EDGES, IC_EPS)],
      legend: { x: 671, y: 622, rows: [{ kind: 'line', text: epsText }], swW: 25, textOff: 36 },
    },
  ];
}

export default function App() {
  const r0 = useRef<HTMLCanvasElement>(null);
  const r1 = useRef<HTMLCanvasElement>(null);
  const r2 = useRef<HTMLCanvasElement>(null);
  const r3 = useRef<HTMLCanvasElement>(null);
  const r4 = useRef<HTMLCanvasElement>(null);
  const r5 = useRef<HTMLCanvasElement>(null);
  const refs = [r0, r1, r2, r3, r4, r5];

  useEffect(() => {
    const specs = makeSpecs();
    const charts = specs.map((sp, i) => buildChart(refs[i].current as HTMLCanvasElement, sp));
    return () => charts.forEach((c) => c.destroy());
  }, []);

  return (
    <div style={{ position: 'absolute', left: 0, top: 0, width: 1200, height: 695, background: '#fff', overflow: 'hidden' }}>
      {refs.map((r, i) => (
        <canvas key={i} ref={r} style={{ position: 'absolute' }} />
      ))}
    </div>
  );
}
